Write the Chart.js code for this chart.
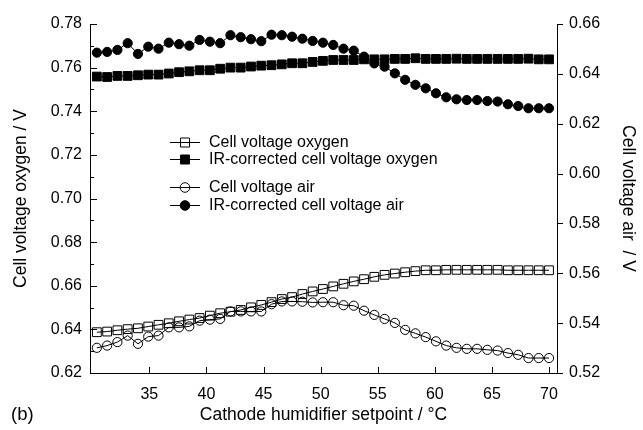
<!DOCTYPE html>
<html>
<head>
<meta charset="utf-8">
<script src="https://cdn.jsdelivr.net/npm/chart.js@4/dist/chart.umd.min.js"></script>
<style>
html, body { margin: 0; padding: 0; background: #fff; }
#wrap { width: 643px; height: 430px; }
</style>
</head>
<body>
<div id="wrap"><canvas id="chart" width="643" height="430"></canvas></div>
<script>
// cathode humidifier setpoint (degC)
const setpoint = [30.4, 31.3, 32.2, 33.1, 34.0, 34.9, 35.8, 36.7, 37.6, 38.5,
    39.4, 40.3, 41.2, 42.1, 43.0, 43.9, 44.8, 45.7, 46.6, 47.5,
    48.4, 49.3, 50.2, 51.1, 52.0, 52.9, 53.8, 54.7, 55.6, 56.5,
    57.4, 58.3, 59.2, 60.1, 61.0, 61.9, 62.8, 63.7, 64.6, 65.5,
    66.4, 67.3, 68.2, 69.1, 70.0];

// oxygen, left axis
const cellO2 = [0.6387, 0.6390, 0.6396, 0.6401, 0.6405, 0.6413, 0.6421, 0.6428, 0.6437, 0.6445,
    0.6452, 0.6463, 0.6474, 0.6481, 0.6489, 0.6501, 0.6512, 0.6525, 0.6539, 0.6548,
    0.6562, 0.6574, 0.6585, 0.6597, 0.6609, 0.6620, 0.6630, 0.6641, 0.6650, 0.6656,
    0.6662, 0.6667, 0.6671, 0.6671, 0.6673, 0.6673, 0.6673, 0.6673, 0.6673, 0.6673,
    0.6671, 0.6671, 0.6671, 0.6671, 0.6671];
const irO2 = [0.7559, 0.7557, 0.7562, 0.7562, 0.7565, 0.7568, 0.7568, 0.7573, 0.7579, 0.7583,
    0.7588, 0.7588, 0.7595, 0.7600, 0.7600, 0.7605, 0.7609, 0.7611, 0.7615, 0.7620,
    0.7620, 0.7626, 0.7631, 0.7635, 0.7635, 0.7635, 0.7638, 0.7638, 0.7638, 0.7640,
    0.7640, 0.7643, 0.7640, 0.7640, 0.7640, 0.7641, 0.7640, 0.7640, 0.7640, 0.7640,
    0.7640, 0.7640, 0.7641, 0.7638, 0.7638];

// air, right axis
const cellAir = [0.5301, 0.5310, 0.5324, 0.5350, 0.5317, 0.5346, 0.5350, 0.5383, 0.5383, 0.5387,
    0.5410, 0.5414, 0.5417, 0.5447, 0.5447, 0.5447, 0.5447, 0.5476, 0.5487, 0.5487,
    0.5486, 0.5483, 0.5484, 0.5484, 0.5472, 0.5470, 0.5450, 0.5433, 0.5417, 0.5401,
    0.5373, 0.5359, 0.5344, 0.5327, 0.5310, 0.5301, 0.5297, 0.5297, 0.5293, 0.5290,
    0.5280, 0.5273, 0.5260, 0.5260, 0.5260];
const irAir = [0.6485, 0.6488, 0.6496, 0.6523, 0.6480, 0.6509, 0.6501, 0.6525, 0.6519, 0.6513,
    0.6536, 0.6529, 0.6523, 0.6555, 0.6547, 0.6539, 0.6531, 0.6557, 0.6555, 0.6549,
    0.6541, 0.6532, 0.6525, 0.6516, 0.6501, 0.6493, 0.6469, 0.6442, 0.6429, 0.6402,
    0.6376, 0.6356, 0.6342, 0.6322, 0.6306, 0.6298, 0.6295, 0.6295, 0.6291, 0.6289,
    0.6278, 0.6271, 0.6262, 0.6262, 0.6262];

const xTicks = [35, 40, 45, 50, 55, 60, 65, 70];
const leftTicks = [0.62, 0.64, 0.66, 0.68, 0.70, 0.72, 0.74, 0.76, 0.78];
const leftMinor = [0.63, 0.65, 0.67, 0.69, 0.71, 0.73, 0.75, 0.77];
const rightTicks = [0.52, 0.54, 0.56, 0.58, 0.60, 0.62, 0.64, 0.66];

const seriesLabels = ['Cell voltage oxygen', 'IR-corrected cell voltage oxygen',
    'Cell voltage air', 'IR-corrected cell voltage air'];

const FONT = 'Liberation Sans, Arial, Helvetica, sans-serif';

function pts(ys) {
    return ys.map((y, i) => ({ x: setpoint[i], y: y }));
}

function makeSet(label, ys, axis, shape, filled) {
    return {
        label: label,
        data: pts(ys),
        yAxisID: axis,
        borderColor: '#000',
        borderWidth: 1,
        pointStyle: shape,
        pointRadius: shape === 'rect' ? 6.2 : 4.6,
        pointBorderWidth: 1,
        pointBorderColor: '#000',
        pointBackgroundColor: filled ? '#000' : 'rgba(0,0,0,0)',
        tension: 0,
        fill: false
    };
}

// axis lines, inward/outward ticks, legend and panel tag
const frame = {
    id: 'frame',
    afterDraw(chart) {
        const ctx = chart.ctx;
        const a = chart.chartArea;
        const sx = chart.scales.x, sl = chart.scales.y, sr = chart.scales.y2;
        ctx.save();
        ctx.strokeStyle = '#000';
        ctx.lineWidth = 1;
        ctx.beginPath();
        ctx.moveTo(a.left + 0.5, a.top);
        ctx.lineTo(a.left + 0.5, a.bottom + 0.5);
        ctx.lineTo(a.right + 0.5, a.bottom + 0.5);
        ctx.lineTo(a.right + 0.5, a.top);
        xTicks.forEach(v => {
            const px = Math.round(sx.getPixelForValue(v)) + 0.5;
            ctx.moveTo(px, a.bottom);
            ctx.lineTo(px, a.bottom - 6);
        });
        leftTicks.forEach(v => {
            const py = Math.round(sl.getPixelForValue(v)) + 0.5;
            ctx.moveTo(a.left, py);
            ctx.lineTo(a.left + 7, py);
        });
        leftMinor.forEach(v => {
            const py = Math.round(sl.getPixelForValue(v)) + 0.5;
            ctx.moveTo(a.left, py);
            ctx.lineTo(a.left + 4, py);
        });
        rightTicks.forEach(v => {
            const py = Math.round(sr.getPixelForValue(v)) + 0.5;
            ctx.moveTo(a.right, py);
            ctx.lineTo(a.right + 6, py);
        });
        ctx.stroke();

        // legend
        const rows = [142, 159, 187, 205];
        ctx.font = '16px ' + FONT;
        ctx.textBaseline = 'middle';
        ctx.fillStyle = '#000';
        chart.data.datasets.forEach((ds, i) => {
            const y = rows[i];
            ctx.beginPath();
            ctx.moveTo(170, y + 0.5);
            ctx.lineTo(200, y + 0.5);
            ctx.stroke();
            const isRect = ds.pointStyle === 'rect';
            ctx.beginPath();
            if (isRect) {
                ctx.rect(180.5, y - 4, 9, 9);
            } else {
                ctx.arc(185, y + 0.5, 4.8, 0, Math.PI * 2);
            }
            if (ds.pointBackgroundColor === '#000') {
                ctx.fill();
            } else {
                ctx.fillStyle = '#fff';
                ctx.fill();
                ctx.fillStyle = '#000';
                ctx.moveTo(180.5, y + 0.5);
                ctx.lineTo(189.5, y + 0.5);
            }
            ctx.stroke();
            ctx.fillText(ds.label, 209, y + 1);
        });

        ctx.font = '18.5px ' + FONT;
        ctx.fillText('(b)', 11, 415);
        ctx.restore();
    }
};

new Chart(document.getElementById('chart').getContext('2d'), {
    type: 'line',
    data: {
        datasets: [
            makeSet(seriesLabels[0], cellO2, 'y', 'rect', false),
            makeSet(seriesLabels[1], irO2, 'y', 'rect', true),
            makeSet(seriesLabels[2], cellAir, 'y2', 'circle', false),
            makeSet(seriesLabels[3], irAir, 'y2', 'circle', true)
        ]
    },
    options: {
        responsive: false,
        animation: false,
        devicePixelRatio: 1,
        layout: { padding: { top: 24, left: 0, right: 0, bottom: 0 } },
        plugins: {
            legend: { display: false },
            tooltip: { enabled: false }
        },
        scales: {
            x: {
                type: 'linear',
                min: 29.8,
                max: 70.7,
                afterBuildTicks: s => { s.ticks = xTicks.map(v => ({ value: v })); },
                afterFit: s => { s.height = 57; s.paddingLeft = 0; s.paddingRight = 0; },
                grid: { display: false, drawTicks: false },
                border: { display: false },
                ticks: { color: '#000', padding: 12, maxRotation: 0, font: { family: FONT, size: 16 } },
                title: {
                    display: true,
                    text: 'Cathode humidifier setpoint / °C',
                    color: '#000',
                    padding: { top: 0, bottom: 4 },
                    font: { family: FONT, size: 17.5 }
                }
            },
            y: {
                type: 'linear',
                position: 'left',
                min: 0.62,
                max: 0.78,
                afterBuildTicks: s => { s.ticks = leftTicks.map(v => ({ value: v })); },
                afterFit: s => { s.width = 90; s.paddingTop = 0; s.paddingBottom = 0; },
                grid: { display: false, drawTicks: false },
                border: { display: false },
                ticks: { color: '#000', padding: 8, font: { family: FONT, size: 16 },
                    callback: v => v.toFixed(2) },
                title: {
                    display: true,
                    text: 'Cell voltage oxygen / V',
                    color: '#000',
                    padding: { top: 10.5, bottom: 0 },
                    font: { family: FONT, size: 17.5 }
                }
            },
            y2: {
                type: 'linear',
                position: 'right',
                min: 0.52,
                max: 0.66,
                afterBuildTicks: s => { s.ticks = rightTicks.map(v => ({ value: v })); },
                afterFit: s => { s.width = 86; s.paddingTop = 0; s.paddingBottom = 0; },
                grid: { display: false, drawTicks: false },
                border: { display: false },
                ticks: { color: '#000', padding: 12, font: { family: FONT, size: 16 },
                    callback: v => v.toFixed(2) },
                title: {
                    display: true,
                    text: 'Cell voltage air  / V',
                    color: '#000',
                    padding: { top: 4.5, bottom: 0 },
                    font: { family: FONT, size: 17.5 }
                }
            }
        }
    },
    plugins: [frame]
});
</script>
</body>
</html>
